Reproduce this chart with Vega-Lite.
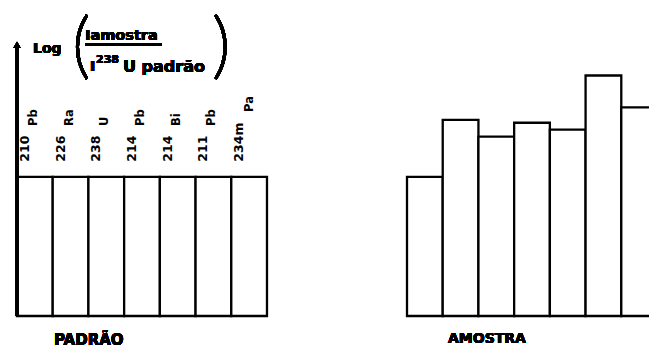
{
  "$schema": "https://vega.github.io/schema/vega-lite/v6.json",
  "width": 649,
  "height": 352,
  "autosize": {"type": "fit", "contains": "padding"},
  "padding": 0,
  "background": "white",
  "config": {"view": {"stroke": null}},
  "data": {
    "values": [
      {"grupo": "PADRÃO", "iso": "210Pb", "num": "210", "el": "Pb", "valor": 1.0},
      {"grupo": "PADRÃO", "iso": "226Ra", "num": "226", "el": "Ra", "valor": 1.0},
      {"grupo": "PADRÃO", "iso": "238U", "num": "238", "el": "U", "valor": 1.0},
      {"grupo": "PADRÃO", "iso": "214Pb", "num": "214", "el": "Pb", "valor": 1.0},
      {"grupo": "PADRÃO", "iso": "214Bi", "num": "214", "el": "Bi", "valor": 1.0},
      {"grupo": "PADRÃO", "iso": "211Pb", "num": "211", "el": "Pb", "valor": 1.0},
      {"grupo": "PADRÃO", "iso": "234mPa", "num": "234m", "el": "Pa", "valor": 1.0},
      {"grupo": "AMOSTRA", "iso": "210Pb", "num": "210", "el": "Pb", "valor": 1.0},
      {"grupo": "AMOSTRA", "iso": "226Ra", "num": "226", "el": "Ra", "valor": 1.41},
      {"grupo": "AMOSTRA", "iso": "238U", "num": "238", "el": "U", "valor": 1.29},
      {"grupo": "AMOSTRA", "iso": "214Pb", "num": "214", "el": "Pb", "valor": 1.39},
      {"grupo": "AMOSTRA", "iso": "214Bi", "num": "214", "el": "Bi", "valor": 1.34},
      {"grupo": "AMOSTRA", "iso": "211Pb", "num": "211", "el": "Pb", "valor": 1.73},
      {"grupo": "AMOSTRA", "iso": "234mPa", "num": "234m", "el": "Pa", "valor": 1.50}
    ]
  },
  "encoding": {
    "x": {
      "field": "grupo",
      "type": "nominal",
      "axis": null,
      "scale": {"domain": ["PADRÃO", "AMOSTRA"], "range": [17, 657], "paddingInner": 0.359, "paddingOuter": 0}
    }
  },
  "layer": [
    {
      "mark": {"type": "bar", "fill": "white", "stroke": "black", "strokeWidth": 2.3, "clip": true},
      "encoding": {
        "xOffset": {"field": "iso", "type": "nominal", "sort": null, "scale": {"paddingInner": 0, "paddingOuter": 0}},
        "y": {"field": "valor", "type": "quantitative", "axis": null, "scale": {"domain": [-0.259, 2.273], "nice": false, "zero": false}},
        "y2": {"datum": 0}
      }
    },
    {
      "transform": [{"filter": "datum.grupo == 'PADRÃO'"}],
      "mark": {"type": "text", "angle": 270, "align": "left", "baseline": "middle", "dy": -10, "font": "DejaVu Sans", "fontWeight": "bold", "fontSize": 12.5, "color": "black"},
      "encoding": {
        "xOffset": {"field": "iso", "type": "nominal", "sort": null},
        "y": {"datum": 1.11},
        "text": {"field": "num"}
      }
    },
    {
      "transform": [{"filter": "datum.grupo == 'PADRÃO' && datum.num != '234m'"}],
      "mark": {"type": "text", "angle": 270, "align": "left", "baseline": "middle", "dy": -1, "font": "DejaVu Sans", "fontWeight": "bold", "fontSize": 11.5, "color": "black"},
      "encoding": {
        "xOffset": {"field": "iso", "type": "nominal", "sort": null},
        "y": {"datum": 1.367},
        "text": {"field": "el"}
      }
    },
    {
      "transform": [{"filter": "datum.grupo == 'PADRÃO' && datum.num == '234m'"}],
      "mark": {"type": "text", "angle": 270, "align": "left", "baseline": "middle", "dy": 1, "font": "DejaVu Sans", "fontWeight": "bold", "fontSize": 11.5, "color": "black"},
      "encoding": {
        "xOffset": {"field": "iso", "type": "nominal", "sort": null},
        "y": {"datum": 1.468},
        "text": {"field": "el"}
      }
    },
    {
      "mark": {"type": "rule", "stroke": "black", "strokeWidth": 2.5},
      "encoding": {
        "x": {"datum": "PADRÃO", "bandPosition": 0},
        "y": {"datum": 0},
        "y2": {"datum": 1.93}
      }
    },
    {
      "mark": {"type": "point", "shape": "triangle-up", "filled": true, "color": "black", "size": 55, "opacity": 1},
      "encoding": {
        "x": {"datum": "PADRÃO", "bandPosition": 0},
        "y": {"datum": 1.95}
      }
    },
    {
      "mark": {"type": "text", "align": "left", "baseline": "alphabetic", "dx": 16, "font": "DejaVu Sans", "fontWeight": "bold", "fontSize": 14, "color": "black", "text": "Log"},
      "encoding": {"x": {"datum": "PADRÃO", "bandPosition": 0}, "y": {"datum": 1.892}}
    },
    {
      "mark": {"type": "text", "align": "left", "baseline": "alphabetic", "dx": 55, "font": "Lato", "fontWeight": 300, "fontSize": 72, "color": "black", "text": "("},
      "encoding": {"x": {"datum": "PADRÃO", "bandPosition": 0}, "y": {"datum": 1.77}}
    },
    {
      "mark": {"type": "text", "align": "left", "baseline": "alphabetic", "dx": 195, "font": "Lato", "fontWeight": 300, "fontSize": 72, "color": "black", "text": ")"},
      "encoding": {"x": {"datum": "PADRÃO", "bandPosition": 0}, "y": {"datum": 1.77}}
    },
    {
      "mark": {"type": "text", "align": "left", "baseline": "alphabetic", "dx": 68, "font": "DejaVu Sans", "fontWeight": "bold", "fontSize": 14.5, "color": "black", "text": "Iamostra"},
      "encoding": {"x": {"datum": "PADRÃO", "bandPosition": 0}, "y": {"datum": 1.986}}
    },
    {
      "mark": {"type": "rule", "stroke": "black", "strokeWidth": 2.5, "xOffset": 68, "x2Offset": 20},
      "encoding": {
        "x": {"datum": "PADRÃO", "bandPosition": 0},
        "x2": {"datum": "PADRÃO"},
        "y": {"datum": 1.953}
      }
    },
    {
      "mark": {"type": "text", "align": "left", "baseline": "alphabetic", "dx": 73, "font": "DejaVu Sans", "fontWeight": "bold", "fontSize": 14, "color": "black", "text": "I"},
      "encoding": {"x": {"datum": "PADRÃO", "bandPosition": 0}, "y": {"datum": 1.763}}
    },
    {
      "mark": {"type": "text", "align": "left", "baseline": "alphabetic", "dx": 79, "font": "DejaVu Sans", "fontWeight": "bold", "fontSize": 11, "color": "black", "text": "238"},
      "encoding": {"x": {"datum": "PADRÃO", "bandPosition": 0}, "y": {"datum": 1.82}}
    },
    {
      "mark": {"type": "text", "align": "left", "baseline": "alphabetic", "dx": 106, "font": "DejaVu Sans", "fontWeight": "bold", "fontSize": 16, "color": "black", "text": "U padrão"},
      "encoding": {"x": {"datum": "PADRÃO", "bandPosition": 0}, "y": {"datum": 1.755}}
    },
    {
      "mark": {"type": "text", "align": "left", "baseline": "alphabetic", "dx": 37, "font": "DejaVu Sans", "fontWeight": "bold", "fontSize": 15, "color": "black", "text": "PADRÃO"},
      "encoding": {"x": {"datum": "PADRÃO", "bandPosition": 0}, "y": {"datum": -0.209}}
    },
    {
      "mark": {"type": "text", "align": "left", "baseline": "alphabetic", "dx": 41, "font": "DejaVu Sans", "fontWeight": "bold", "fontSize": 14, "color": "black", "text": "AMOSTRA"},
      "encoding": {"x": {"datum": "AMOSTRA", "bandPosition": 0}, "y": {"datum": -0.194}}
    }
  ]
}
